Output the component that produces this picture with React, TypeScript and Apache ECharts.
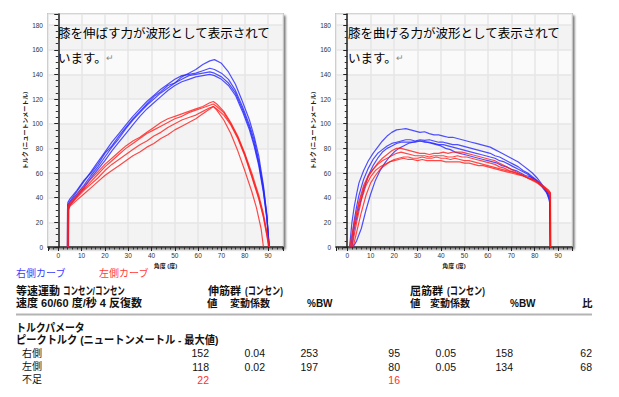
import React, { useEffect, useRef } from "react";
import * as echarts from "echarts";

type P = [number, number][];

// 伸展（左グラフ） angle (deg), torque (Nm)
const extBlue1: P = [[4.0,0],[4.1,36],[5,39],[8,46],[11,54],[14,60],[17,67],[20,76],[23,82],[26,90],[29,97],[32,104],[35,110],[38,116],[41,122],[44,126],[47,131],[50,133],[53,138],[56,141],[59,144],[62,148],[65,151],[67,152],[70,149],[73,142],[76,132],[79,118],[82,103],[84,90],[86,74],[88,50],[89.5,26],[90.3,0]];
const extBlue2: P = [[3.9,0],[4.0,34],[5,37],[8,45],[11,53],[14,61],[17,69],[20,77],[23,85],[26,92],[29,99],[32,106],[35,112],[38,118],[41,123],[44,128],[47,132],[50,136],[53,139],[56,140],[59,141],[62,143],[65,145],[67,144],[70,141],[73,136],[76,127],[79,114],[82,99],[84,87],[86,70],[88,48],[89.5,25],[90.4,0]];
const extBlue3: P = [[4.2,0],[4.3,33],[5,36],[8,43],[11,50],[14,58],[17,65],[20,73],[23,81],[26,88],[29,96],[32,103],[35,109],[38,115],[41,120],[44,125],[47,129],[50,133],[53,136],[56,139],[59,140],[62,141],[65,142],[67,141],[70,138],[73,133],[76,125],[79,112],[82,97],[84,84],[86,68],[88,46],[89.5,24],[90.5,0]];
const extBlue4: P = [[4.4,0],[4.5,31],[5,34],[8,41],[11,48],[14,56],[17,63],[20,70],[23,78],[26,85],[29,92],[32,99],[35,106],[38,112],[41,117],[44,122],[47,127],[50,131],[53,134],[56,136],[59,138],[62,139],[65,140],[67,139],[70,136],[73,131],[76,123],[79,110],[82,95],[84,82],[86,66],[88,44],[89.5,22],[90.6,0]];
const extRed1: P = [[3.9,0],[4.0,33],[5,36],[8,42],[11,49],[14,55],[17,61],[20,67],[23,72],[26,77],[29,82],[32,86],[35,89],[38,93],[41,97],[44,101],[47,104],[50,106],[53,108],[56,110],[59,112],[62,114],[65,117],[66.5,118],[68,116],[71,110],[74,101],[77,90],[80,76],[83,60],[86,42],[88,27],[89.5,12],[90.6,0]];
const extRed2: P = [[4.1,0],[4.2,32],[5,35],[8,41],[11,47],[14,53],[17,59],[20,65],[23,70],[26,75],[29,80],[32,84],[35,88],[38,92],[41,95],[44,98],[47,101],[50,104],[53,106],[56,109],[59,111],[62,113],[65,115],[66.5,116],[68,114],[71,109],[74,100],[77,89],[80,75],[83,58],[86,40],[88,25],[89.5,10],[90.5,0]];
const extRed3: P = [[4.0,0],[4.1,31],[5,34],[8,40],[11,46],[14,51],[17,56],[20,62],[23,67],[26,71],[29,75],[32,79],[35,83],[38,86],[41,90],[44,93],[47,97],[50,100],[53,103],[56,105],[59,107],[62,110],[65,113],[66.5,114],[68,112],[71,107],[74,99],[77,88],[80,74],[83,57],[86,39],[88,24],[89.5,9],[90.2,0]];
const extRed4: P = [[4.3,0],[4.4,30],[5,33],[8,38],[11,43],[14,48],[17,53],[20,58],[23,62],[26,66],[29,70],[32,74],[35,77],[38,81],[41,84],[44,88],[47,91],[50,95],[53,98],[56,101],[59,104],[62,108],[65,112],[66.5,114],[68,111],[71,103],[74,92],[77,78],[80,62],[83,45],[85,32],[87,15],[88,0]];

// 屈曲（右グラフ）
const flexBlue1: P = [[1,0],[2,20],[3,33],[4,43],[5,52],[7,62],[9,70],[11,76],[13,81],[15,86],[17,90],[19,93],[21,95],[23,95.5],[25,96],[27,95],[29,94],[31,93],[33,93.5],[35,92],[37,91],[39,91],[41,90],[43,89],[45,89],[47,88],[49,87],[51,86],[53,85],[55,84],[57,83],[59,82],[61,81],[63,79],[65,77],[67,75],[69,73],[71,71],[73,69],[75,66],[77,63],[79,60],[81,56],[83,51],[85,46],[86.3,42],[86.5,20],[86.6,0]];
const flexBlue2: P = [[1.5,0],[3,22],[4,33],[5,42],[7,55],[9,64],[11,71],[13,76],[15,79],[17,82],[19,84],[21,85],[23,86],[25,87],[27,87],[29,86],[31,87],[33,86.5],[35,87],[37,86],[39,85],[41,85],[43,84],[45,83],[47,83],[49,82],[51,81],[53,80],[55,79],[57,78],[59,77],[61,76],[63,74],[65,73],[67,71],[69,69],[71,67],[73,65],[75,62],[77,60],[79,57],[81,54],[83,50],[85,45],[86.4,40],[86.6,20],[86.7,0]];
const flexBlue3: P = [[2,0],[3,15],[5,32],[7,46],[9,58],[11,66],[13,72],[15,77],[17,80],[19,82],[21,84],[23,85],[25,85],[27,85],[29,85],[31,86],[33,85],[35,85],[37,84],[39,83],[41,83],[43,82],[45,81],[47,80],[49,79],[51,78],[53,77],[55,76],[57,75],[59,74],[61,73],[63,72],[65,70],[67,69],[69,67],[71,65],[73,63],[75,61],[77,59],[79,56],[81,53],[83,49],[85,44],[86.4,38],[86.6,15],[86.7,0]];
const flexBlue4: P = [[2.5,0],[4,5],[6,15],[8,30],[10,43],[12,54],[14,62],[16,68],[18,73],[20,77],[22,80],[24,82],[26,84],[28,85],[30,86],[32,86],[34,85],[36,84],[38,83],[40,82],[42,80],[44,79],[46,77],[48,76],[50,75],[52,74],[54,73],[56,72],[58,71],[60,70],[62,69],[64,68],[66,66],[68,65],[70,63],[72,62],[74,60],[76,58],[78,57],[80,55],[82,52],[84,48],[85.5,43],[86.5,35],[86.6,0]];
const flexRed1: P = [[1.5,0],[3,18],[5,35],[7,48],[9,57],[11,63],[13,68],[15,72],[17,75],[19,78],[21,80],[23,80],[25,79],[27,78],[29,77],[31,76],[33,76],[35,75],[37,76],[39,76],[41,77],[43,76],[45,77],[47,77],[49,77],[51,76],[53,75],[55,74],[57,73],[59,72],[61,71],[63,70],[65,68],[67,66],[69,64],[71,62],[73,60],[75,58],[77,56],[79,54],[81,52],[83,49],[85,46],[86.6,43],[86.7,0]];
const flexRed2: P = [[1,0],[3,20],[5,37],[7,50],[9,58],[11,63],[13,67],[15,70],[17,72],[19,74],[21,76],[23,77],[25,76],[27,75],[29,74],[31,74],[33,74],[35,73],[37,74],[39,74],[41,74],[43,73],[45,73],[47,74],[49,73],[51,73],[53,72],[55,71],[57,70],[59,69],[61,68],[63,67],[65,65],[67,64],[69,62],[71,61],[73,59],[75,58],[77,56],[79,55],[81,53],[83,50],[85,47],[86.6,44],[86.7,0]];
const flexRed3: P = [[2,0],[4,20],[6,38],[8,50],[10,57],[12,62],[14,65],[16,67],[18,69],[20,70],[22,71],[24,72],[26,71],[28,71],[30,70],[32,71],[34,70],[36,70],[38,70],[40,70],[42,69],[44,69],[46,69],[48,69],[50,68],[52,68],[54,67],[56,66],[58,66],[60,65],[62,64],[64,63],[66,62],[68,61],[70,60],[72,59],[74,58],[76,57],[78,56],[80,54],[82,52],[84,49],[86,46],[86.7,44],[86.8,0]];
const flexRed4: P = [[2.5,0],[4,12],[6,28],[8,42],[10,52],[12,58],[14,63],[16,66],[18,69],[20,71],[22,72],[24,73],[26,73],[28,72],[30,72],[32,73],[34,72],[36,72],[38,73],[40,72],[42,72],[44,71],[46,72],[48,71],[50,70],[52,70],[54,69],[56,68],[58,67],[60,66],[62,65],[64,64],[66,63],[68,62],[70,61],[72,60],[74,59],[76,57],[78,55],[80,54],[82,51],[84,48],[86,44],[86.7,41],[86.8,0]];

// table values
const rightRow = ["152", "0.04", "253", "95", "0.05", "158", "62"];
const leftRow = ["118", "0.02", "197", "80", "0.05", "134", "68"];
const deficitRow = ["22", "", "", "16", "", "", ""];
const colRight = [209, 265, 318, 400, 456, 513, 592];

const BLUE = "#2424ff";
const RED = "#ff1c1c";
const FONT = '"Liberation Sans", "Noto Sans CJK JP", sans-serif';

function axisPair(gridIndex: number, xmin: number, xmax: number) {
  const fmt10 = (v: number) => (Math.abs(v - Math.round(v / 10) * 10) < 1e-6 ? String(Math.round(v)) : "");
  const fmt20 = (v: number) => (Math.abs(v - Math.round(v / 20) * 20) < 1e-6 ? String(Math.round(v)) : "");
  const x = {
    gridIndex,
    type: "value",
    min: xmin,
    max: xmax,
    splitNumber: 10,
    axisLine: { show: true, onZero: false, lineStyle: { color: "#222", width: 1.5 } },
    axisTick: { show: true, length: 4, lineStyle: { color: "#222" } },
    minorTick: { show: true, splitNumber: 5, length: 2.5, lineStyle: { color: "#333" } },
    axisLabel: { fontSize: 6.5, color: "#333", margin: 5, formatter: fmt10, fontFamily: FONT },
    splitLine: { show: true, lineStyle: { color: "#e6e6e6", width: 1.5 } },
    name: "角度 (度)",
    nameLocation: "middle",
    nameGap: 12,
    nameTextStyle: { fontSize: 6, fontWeight: "bold", color: "#222", fontFamily: FONT },
  };
  const y = {
    gridIndex,
    type: "value",
    min: 0,
    max: 189,
    interval: 20,
    axisLine: { show: true, lineStyle: { color: "#222", width: 1.5 } },
    axisTick: { show: true, length: 4, lineStyle: { color: "#222" } },
    minorTick: { show: true, splitNumber: 4, length: 2.5, lineStyle: { color: "#333" } },
    axisLabel: { fontSize: 6.5, color: "#333", margin: 5, formatter: fmt20, fontFamily: FONT },
    splitLine: { show: true, lineStyle: { color: "#e6e6e6", width: 1.5 } },
    splitArea: { show: true, areaStyle: { color: ["#f3f3f3", "#fafafa"] } },
    name: "トルク (ニュートンメートル)",
    nameLocation: "middle",
    nameGap: 15,
    nameTextStyle: { fontSize: 6, fontWeight: "bold", color: "#222", fontFamily: FONT },
  };
  return { x, y };
}

function lineSeries(name: string, data: P, color: string, idx: number) {
  return {
    name,
    type: "line",
    xAxisIndex: idx,
    yAxisIndex: idx,
    data,
    showSymbol: false,
    symbol: "none",
    smooth: false,
    lineStyle: { color, width: 1.2, opacity: 0.8 },
    z: color === RED ? 3 : 2,
  };
}

function txt(text: string, x: number, y: number, o: any = {}) {
  return {
    type: "text",
    x,
    y,
    scaleX: o.scaleX ?? 1,
    z: 100,
    style: {
      text,
      fill: o.fill ?? "#111",
      font: `${o.bold ? "bold " : ""}${o.size ?? 10.5}px ${o.family ?? FONT}`,
      align: o.align ?? "left",
      verticalAlign: "middle",
    },
  };
}

export default function App() {
  const ref = useRef<HTMLDivElement>(null);
  useEffect(() => {
    if (!ref.current) return;
    const chart = echarts.init(ref.current, undefined, { renderer: "svg" });
    const a0 = axisPair(0, -4.4, 96.4);
    const a1 = axisPair(1, -4.8, 95.9);
    const gridStyle = {
      show: true,
      backgroundColor: "#f7f7f7",
      borderColor: "#444",
      borderWidth: 1.2,
      shadowColor: "rgba(0,0,0,0.55)",
      shadowBlur: 2,
      shadowOffsetX: 2,
      shadowOffsetY: 2,
    };
    const cjk = '"Noto Sans CJK JP", sans-serif';
    const graphic: any[] = [
      txt("膝を伸ばす力が波形として表示されて", 58, 32, { size: 12.5, family: cjk, fill: "#000" }),
      txt("います。", 58, 57, { size: 12.5, family: cjk, fill: "#000" }),
      txt("↵", 106, 57, { size: 9, family: cjk, fill: "#888" }),
      txt("膝を曲げる力が波形として表示されて", 348, 32, { size: 12.5, family: cjk, fill: "#000" }),
      txt("います。", 348, 57, { size: 12.5, family: cjk, fill: "#000" }),
      txt("↵", 396, 57, { size: 9, family: cjk, fill: "#888" }),
      txt("右側カーブ", 16, 273, { size: 10, fill: "#3b3bff" }),
      txt("左側カーブ", 99, 273, { size: 10, fill: "#ff3b3b" }),
      txt("等速運動", 16, 291, { size: 11, bold: true }),
      txt("コンセン/コンセン", 63, 291, { size: 11, bold: true, scaleX: 0.68 }),
      txt("速度 60/60 度/秒 4 反復数", 16, 303, { size: 11, bold: true }),
      txt("伸筋群", 208, 291, { size: 11, bold: true }),
      txt("(コンセン)", 245, 291, { size: 11, bold: true, scaleX: 0.74 }),
      txt("値", 207, 303, { size: 10.5, bold: true }),
      txt("変動係数", 230, 303, { size: 10, bold: true }),
      txt("%BW", 307, 303, { size: 10, bold: true }),
      txt("屈筋群", 410, 291, { size: 11, bold: true }),
      txt("(コンセン)", 447, 291, { size: 11, bold: true, scaleX: 0.74 }),
      txt("値", 410, 303, { size: 10.5, bold: true }),
      txt("変動係数", 430, 303, { size: 10, bold: true }),
      txt("%BW", 510, 303, { size: 10, bold: true }),
      txt("比", 582, 303, { size: 10.5, bold: true }),
      {
        type: "line",
        z: 100,
        shape: { x1: 16, y1: 314.5, x2: 592, y2: 314.5 },
        style: { stroke: "#b4b4b4", lineWidth: 2 },
      },
      txt("トルクパメータ", 16, 328, { size: 11, bold: true, scaleX: 0.9 }),
      txt("ピークトルク (ニュートンメートル - 最大値)", 16, 340, { size: 11, bold: true, scaleX: 0.93 }),
      txt("右側", 22, 353, { size: 10 }),
      txt("左側", 22, 366.5, { size: 10 }),
      txt("不足", 22, 379.5, { size: 10 }),
    ];
    colRight.forEach((cx, i) => {
      graphic.push(txt(rightRow[i], cx, 353, { size: 10.5, align: "right" }));
      graphic.push(txt(leftRow[i], cx, 366.5, { size: 10.5, align: "right" }));
      if (deficitRow[i]) graphic.push(txt(deficitRow[i], cx, 379.5, { size: 10.5, align: "right", fill: "#ff3030" }));
    });

    chart.setOption({
      animation: false,
      backgroundColor: "#fff",
      grid: [
        { left: 48, top: 14, width: 235, height: 233, ...gridStyle },
        { left: 336, top: 14, width: 236, height: 233, ...gridStyle },
      ],
      xAxis: [a0.x, a1.x],
      yAxis: [a0.y, a1.y],
      series: [
        lineSeries("右側1", extBlue1, BLUE, 0),
        lineSeries("右側2", extBlue2, BLUE, 0),
        lineSeries("右側3", extBlue3, BLUE, 0),
        lineSeries("右側4", extBlue4, BLUE, 0),
        lineSeries("左側1", extRed1, RED, 0),
        lineSeries("左側2", extRed2, RED, 0),
        lineSeries("左側3", extRed3, RED, 0),
        lineSeries("左側4", extRed4, RED, 0),
        lineSeries("右側1f", flexBlue1, BLUE, 1),
        lineSeries("右側2f", flexBlue2, BLUE, 1),
        lineSeries("右側3f", flexBlue3, BLUE, 1),
        lineSeries("右側4f", flexBlue4, BLUE, 1),
        lineSeries("左側1f", flexRed1, RED, 1),
        lineSeries("左側2f", flexRed2, RED, 1),
        lineSeries("左側3f", flexRed3, RED, 1),
        lineSeries("左側4f", flexRed4, RED, 1),
      ],
      graphic,
    });
    return () => chart.dispose();
  }, []);
  return <div ref={ref} style={{ position: "absolute", left: 0, top: 0, width: 619, height: 397 }} />;
}
